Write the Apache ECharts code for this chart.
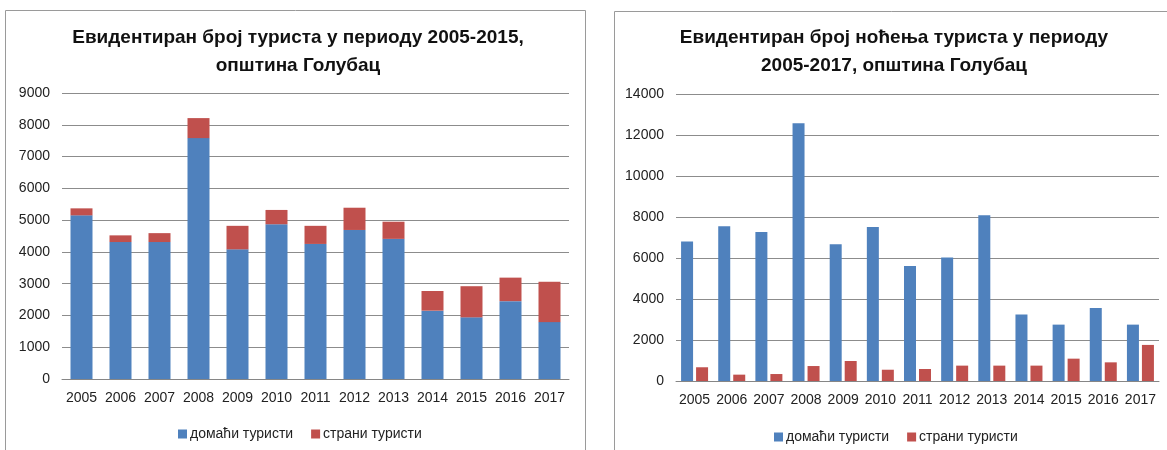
<!DOCTYPE html>
<html>
<head>
<meta charset="utf-8">
<script src="https://cdn.jsdelivr.net/npm/echarts@6/dist/echarts.min.js"></script>
<style>
  html, body { margin: 0; padding: 0; background: #fff; }
  #main { width: 1167px; height: 450px; }
</style>
</head>
<body>
<div id="main"></div>
<script>
// подаци
var years = ['2005','2006','2007','2008','2009','2010','2011','2012','2013','2014','2015','2016','2017'];
var seriesNames = ['домаћи туристи', 'страни туристи'];

// лево: број туриста (стек)
var domesticTourists = [5150, 4310, 4310, 7580, 4080, 4870, 4250, 4690, 4410, 2150, 1940, 2450, 1790];
var foreignTourists  = [220, 210, 280, 630, 740, 450, 570, 700, 540, 620, 980, 740, 1270];

// десно: број ноћења
var domesticNights = [6800, 7550, 7270, 12570, 6670, 7510, 5610, 6030, 8080, 3250, 2750, 3560, 2750];
var foreignNights  = [670, 310, 340, 730, 975, 550, 585, 750, 750, 750, 1090, 910, 1760];

var blue = '#4f81bd';
var red = '#c0504d';
var font = '"Liberation Sans", Arial, sans-serif';

var chart = echarts.init(document.getElementById('main'));

function catAxis(idx) {
    return {
        type: 'category',
        gridIndex: idx,
        data: years,
        axisLine: { lineStyle: { color: '#868686', width: 1 } },
        axisTick: { show: false },
        axisLabel: { interval: 0, margin: 12, color: '#222', fontSize: 14, fontFamily: font }
    };
}

function valAxis(idx, max, step) {
    return {
        type: 'value',
        gridIndex: idx,
        min: 0,
        max: max,
        interval: step,
        axisLine: { show: false },
        axisTick: { show: false },
        axisLabel: {
            margin: 12, color: '#222', fontSize: 14, fontFamily: font,
            formatter: function (v) { return String(v); }
        },
        splitLine: { lineStyle: { color: '#8c8c8c', width: 1 } }
    };
}

function legendAt(x, y) {
    return {
        left: x,
        top: y,
        itemWidth: 9,
        itemHeight: 9,
        itemGap: 18,
        itemStyle: { borderWidth: 0 },
        icon: 'rect',
        padding: 0,
        data: seriesNames,
        textStyle: { color: '#222', fontSize: 14, fontFamily: font, padding: [0, 0, 0, -2] }
    };
}

var titleStyle = { fontSize: 19, fontWeight: 'bold', color: '#111', lineHeight: 28, fontFamily: font };

var option = {
    animation: false,
    backgroundColor: '#fff',
    title: [
        {
            text: 'Евидентиран број туриста у периоду 2005-2015,\nопштина Голубац',
            left: 298,
            top: 24,
            textAlign: 'center',
            padding: 0,
            textStyle: titleStyle
        },
        {
            text: 'Евидентиран број ноћења туриста у периоду\n2005-2017, општина Голубац',
            left: 894,
            top: 24,
            textAlign: 'center',
            padding: 0,
            textStyle: titleStyle
        }
    ],
    legend: [legendAt(178, 427), legendAt(774, 430)],
    graphic: [
        { type: 'rect', shape: { x: 5.5, y: 10.5, width: 580, height: 460 }, style: { fill: 'none', stroke: '#9a9a9a', lineWidth: 1 }, silent: true },
        { type: 'rect', shape: { x: 614.5, y: 11.5, width: 560, height: 460 }, style: { fill: 'none', stroke: '#9a9a9a', lineWidth: 1 }, silent: true }
    ],
    grid: [
        { left: 62, top: 93, width: 507, height: 286 },
        { left: 676, top: 94, width: 483, height: 287 }
    ],
    xAxis: [catAxis(0), catAxis(1)],
    yAxis: [valAxis(0, 9000, 1000), valAxis(1, 14000, 2000)],
    series: [
        {
            name: seriesNames[0],
            type: 'bar',
            xAxisIndex: 0,
            yAxisIndex: 0,
            stack: 'tourists',
            barWidth: 22,
            itemStyle: { color: blue },
            data: domesticTourists
        },
        {
            name: seriesNames[1],
            type: 'bar',
            xAxisIndex: 0,
            yAxisIndex: 0,
            stack: 'tourists',
            barWidth: 22,
            itemStyle: { color: red },
            data: foreignTourists
        },
        {
            name: seriesNames[0],
            type: 'bar',
            xAxisIndex: 1,
            yAxisIndex: 1,
            barWidth: 12,
            barGap: '25%',
            itemStyle: { color: blue },
            data: domesticNights
        },
        {
            name: seriesNames[1],
            type: 'bar',
            xAxisIndex: 1,
            yAxisIndex: 1,
            barWidth: 12,
            barGap: '25%',
            itemStyle: { color: red },
            data: foreignNights
        }
    ]
};

chart.setOption(option);
</script>
</body>
</html>
